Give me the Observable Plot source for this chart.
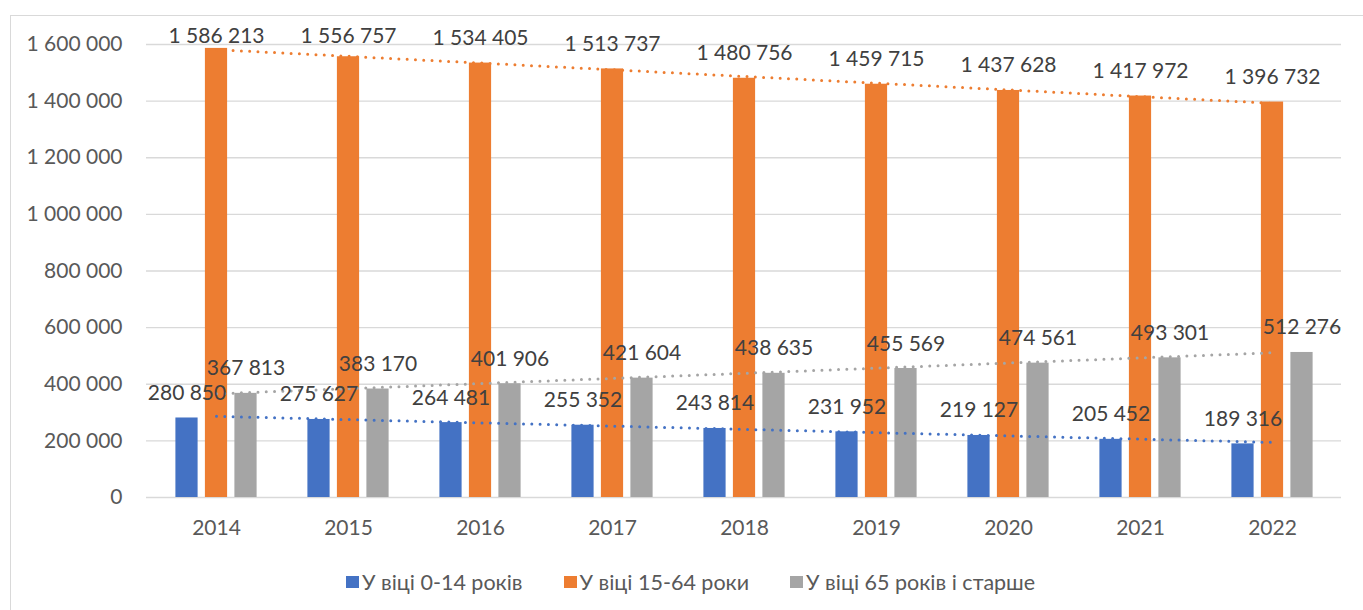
<!DOCTYPE html>
<html><head><meta charset="utf-8">
<script src="https://cdn.jsdelivr.net/npm/d3@7"></script>
<script src="https://cdn.jsdelivr.net/npm/@observablehq/plot@0.6"></script>
<style>
body{margin:0;background:#fff;width:1363px;height:610px;overflow:hidden;position:relative;font-family:Lato,sans-serif;}
#frame{position:absolute;left:10px;top:15px;width:1400px;height:700px;border:1px solid #d9d9d9;box-sizing:border-box;}
#chart{position:absolute;left:0;top:0;}
#legend{position:absolute;left:346px;top:569px;display:flex;align-items:center;font-family:Lato,sans-serif;font-size:21.5px;color:#595959;white-space:nowrap;}
.item{display:flex;align-items:center;margin-right:41px;}
.sw{width:13px;height:12px;margin-right:3px;}
</style></head><body>
<div id="frame"></div><div id="chart"></div><div id="legend"></div>
<script>
const years = ["2014","2015","2016","2017","2018","2019","2020","2021","2022"];
const seriesNames = ["У віці 0-14 років","У віці 15-64 роки","У віці 65 років і старше"];
const age0_14 = [280850,275627,264481,255352,243814,231952,219127,205452,189316];
const age15_64 = [1586213,1556757,1534405,1513737,1480756,1459715,1437628,1417972,1396732];
const age65plus = [367813,383170,401906,421604,438635,455569,474561,493301,512276];
const colors = ["#4472C4","#ED7D31","#A5A5A5"];
const yTicks = [0,200000,400000,600000,800000,1000000,1200000,1400000,1600000];

const loc = d3.formatLocale({decimal:",", thousands:"\u00a0", grouping:[3], currency:["",""]});
const fmt = loc.format(",");

const allSeries = [age0_14, age15_64, age65plus];
const offsets = [-29.5, 0, 29.5];

function trend(vals){
  const n = vals.length, idx = d3.range(n);
  const mx = d3.mean(idx), my = d3.mean(vals);
  const b = d3.sum(idx, i => (i - mx) * (vals[i] - my)) / d3.sum(idx, i => (i - mx) ** 2);
  const a = my - b * mx;
  return years.map((y, i) => ({year: y, value: a + b * i}));
}

const marks = [Plot.ruleY(yTicks, {stroke:"#d9d9d9", strokeWidth:1.3})];
allSeries.forEach((vals, s) => {
  const data = years.map((y, i) => ({year: y, value: vals[i]}));
  marks.push(Plot.barY(data, {x:"year", y:"value", fill: colors[s], insetLeft:54.9, insetRight:54.9, dx: offsets[s]}));
});
allSeries.forEach((vals, s) => {
  marks.push(Plot.line(trend(vals), {x:"year", y:"value", stroke: colors[s], strokeWidth:3, strokeDasharray:"0,8.3", strokeLinecap:"round"}));
});
allSeries.forEach((vals, s) => {
  const data = years.map((y, i) => ({year: y, value: vals[i]}));
  marks.push(Plot.text(data, {x:"year", y: d => Math.min(d.value, 1543000), text: d => fmt(d.value), dx: offsets[s], dy:-18, lineAnchor:"bottom", fontSize:21, fill:"#404040"}));
});
marks.push(Plot.axisY({ticks: yTicks, tickSize:0, tickPadding:24, tickFormat: fmt, fontSize:21}));
marks.push(Plot.axisX({tickSize:0, tickPadding:23, fontSize:21}));

const chart = Plot.plot({
  width:1363, height:545,
  marginLeft:146, marginRight:22, marginTop:44, marginBottom:48,
  style:{color:"#595959", fontFamily:"Lato, sans-serif", background:"transparent"},
  x:{type:"band", domain: years, padding:0, label:null},
  y:{domain:[0,1600000], label:null},
  marks
});
document.getElementById("chart").appendChild(chart);

const legend = document.getElementById("legend");
seriesNames.forEach((name, s) => {
  const it = document.createElement("div"); it.className = "item";
  const sw = document.createElement("div"); sw.className = "sw"; sw.style.background = colors[s];
  const tx = document.createElement("span"); tx.textContent = name;
  it.appendChild(sw); it.appendChild(tx); legend.appendChild(it);
});
</script>
</body></html>
